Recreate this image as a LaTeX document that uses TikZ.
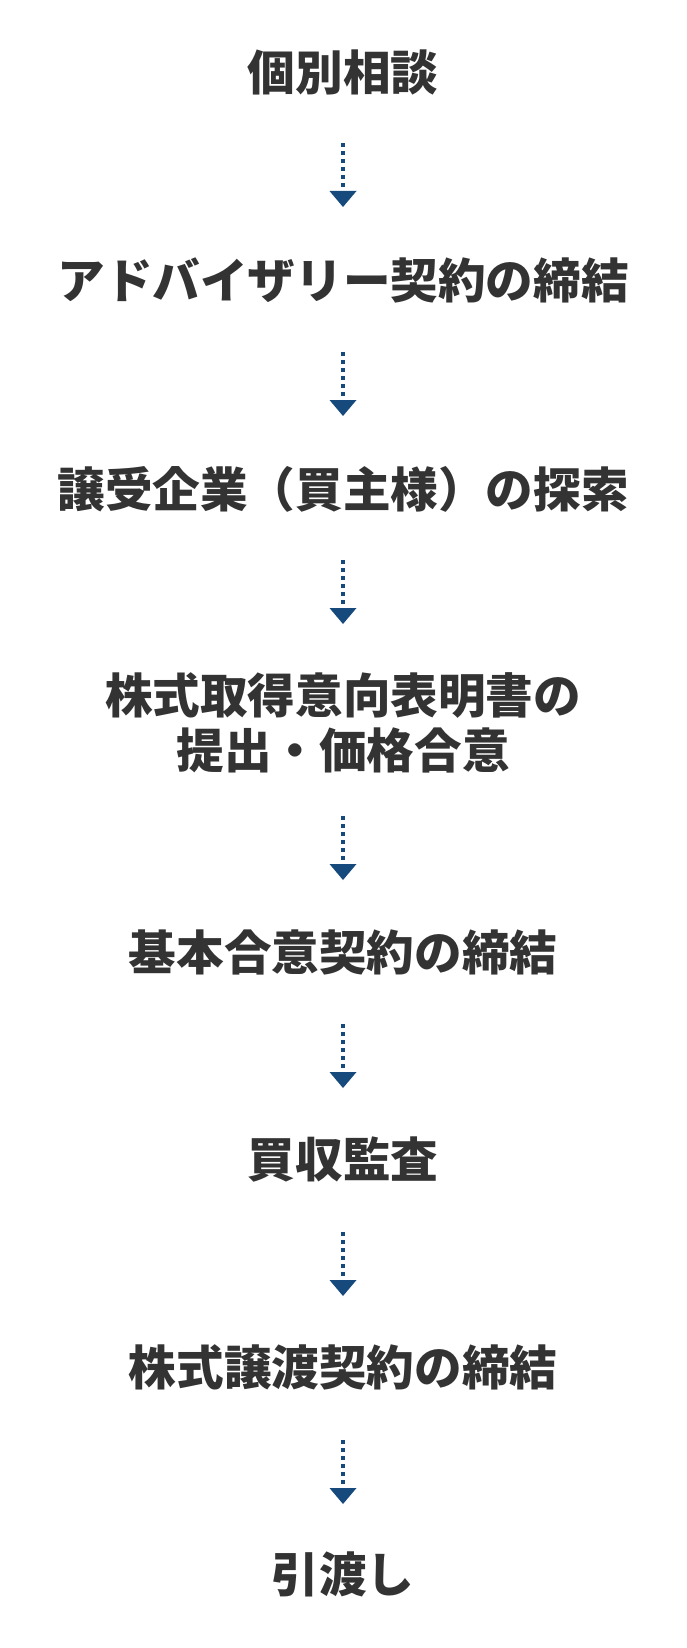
\documentclass[tikz,border=0pt]{standalone}
\usepackage{fontspec}
\newfontfamily\cjk{Noto Sans CJK JP}
\usetikzlibrary{arrows.meta}
\definecolor{txt}{HTML}{333333}
\definecolor{flowblue}{HTML}{174A7C}
\tikzset{
  stepbox/.style={text=txt, font=\cjk\bfseries\fontsize{47.6}{54.5}\selectfont, align=center, inner sep=0pt},
  flow/.style={draw=flowblue, line width=4pt, dash pattern=on 4pt off 4pt,
    -{Triangle[width=27pt 0, length=16pt 0, line width=0pt 0, fill=flowblue]}}
}
\begin{document}
\begin{tikzpicture}[x=1pt,y=-1pt]
\useasboundingbox[fill=white] (0,0) rectangle (686,1648);
\node[stepbox] (t1) at (343,72.6) {個別相談};
\node[stepbox] (t2) at (343,280.6) {アドバイザリー契約の締結};
\node[stepbox] (t3) at (343,489.7) {譲受企業（買主様）の探索};
\node[stepbox] (t4) at (343,722.8) {株式取得意向表明書の\\提出・価格合意};
\node[stepbox] (t5) at (343,952) {基本合意契約の締結};
\node[stepbox] (t6) at (343,1160) {買収監査};
\node[stepbox] (t7) at (343,1367) {株式譲渡契約の締結};
\node[stepbox] (t8) at (343,1574) {引渡し};
\foreach \i/\y in {1/143,2/352,3/560,4/816,5/1024,6/1232,7/1440}{
  \coordinate (s\i) at (343,\y);
  \coordinate (e\i) at (343,\y+64);
  \draw[flow] (s\i) -- (e\i);
}
\end{tikzpicture}
\end{document}
